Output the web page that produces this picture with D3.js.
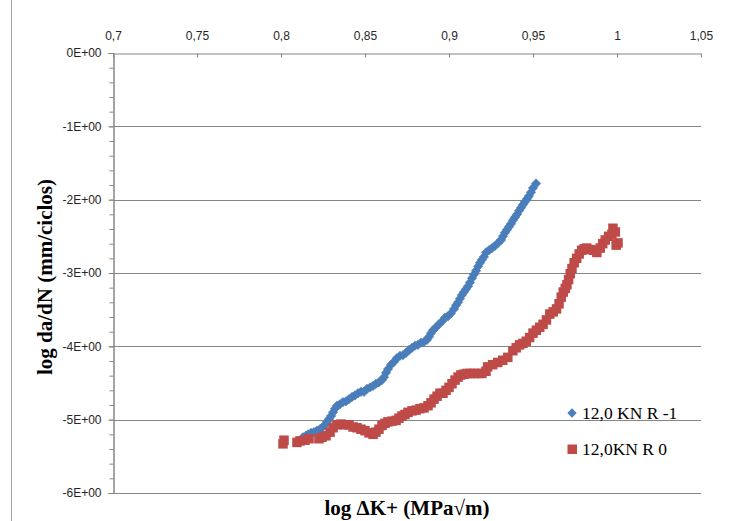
<!DOCTYPE html>
<html>
<head>
<meta charset="utf-8">
<script src="https://cdn.jsdelivr.net/npm/d3@7"></script>
<style>
html,body{margin:0;padding:0;background:#fff;}
svg{display:block;}
</style>
</head>
<body>
<svg id="chart" width="731" height="521"></svg>
<script>
// ---- data ----
const xTicks = [0.7, 0.75, 0.8, 0.85, 0.9, 0.95, 1, 1.05];
const xTickLabels = ["0,7", "0,75", "0,8", "0,85", "0,9", "0,95", "1", "1,05"];
const yTicks = [0, -1, -2, -3, -4, -5, -6];
const yTickLabels = ["0E+00", "-1E+00", "-2E+00", "-3E+00", "-4E+00", "-5E+00", "-6E+00"];
const seriesNames = ["12,0 KN R -1", "12,0KN R 0"];

// series 1: 12,0 KN R -1 (log dK, log da/dN)
const blueX = [0.8101,0.8119,0.8131,0.8149,0.8161,0.8179,0.8196,0.8214,0.8232,0.8244,0.8262,0.8274,0.8286,0.8298,0.8310,0.8321,0.8333,0.8351,0.8369,0.8387,0.8405,0.8423,0.8440,0.8458,0.8476,0.8494,0.8512,0.8530,0.8548,0.8565,0.8583,0.8601,0.8613,0.8625,0.8637,0.8655,0.8673,0.8690,0.8708,0.8726,0.8744,0.8762,0.8780,0.8798,0.8815,0.8833,0.8851,0.8869,0.8881,0.8893,0.8905,0.8923,0.8940,0.8958,0.8976,0.8994,0.9012,0.9030,0.9042,0.9054,0.9065,0.9077,0.9089,0.9101,0.9113,0.9125,0.9137,0.9149,0.9161,0.9173,0.9185,0.9196,0.9208,0.9220,0.9238,0.9256,0.9274,0.9292,0.9310,0.9321,0.9333,0.9345,0.9357,0.9369,0.9381,0.9393,0.9405,0.9417,0.9429,0.9440,0.9452,0.9464,0.9476,0.9488,0.9500,0.9518];
const blueY = [-5.29,-5.28,-5.24,-5.22,-5.20,-5.18,-5.17,-5.15,-5.13,-5.11,-5.07,-5.03,-4.99,-4.95,-4.90,-4.85,-4.81,-4.79,-4.76,-4.75,-4.72,-4.69,-4.67,-4.64,-4.62,-4.62,-4.58,-4.56,-4.54,-4.51,-4.49,-4.46,-4.42,-4.36,-4.31,-4.25,-4.21,-4.16,-4.13,-4.12,-4.09,-4.05,-4.02,-3.99,-3.98,-3.95,-3.94,-3.91,-3.87,-3.82,-3.78,-3.74,-3.70,-3.66,-3.61,-3.59,-3.55,-3.49,-3.44,-3.40,-3.35,-3.30,-3.26,-3.22,-3.18,-3.13,-3.07,-3.02,-2.97,-2.91,-2.86,-2.82,-2.78,-2.72,-2.69,-2.66,-2.63,-2.59,-2.55,-2.50,-2.45,-2.41,-2.37,-2.33,-2.28,-2.24,-2.20,-2.15,-2.11,-2.07,-2.03,-1.99,-1.95,-1.90,-1.84,-1.78];

// series 2: 12,0KN R 0
const redX = [0.8012,0.8018,0.8095,0.8113,0.8143,0.8167,0.8226,0.8244,0.8268,0.8292,0.8310,0.8333,0.8357,0.8381,0.8405,0.8429,0.8452,0.8476,0.8500,0.8524,0.8548,0.8565,0.8583,0.8601,0.8619,0.8637,0.8661,0.8685,0.8702,0.8720,0.8738,0.8756,0.8780,0.8804,0.8827,0.8851,0.8875,0.8893,0.8911,0.8929,0.8946,0.8964,0.8982,0.9000,0.9018,0.9036,0.9054,0.9071,0.9089,0.9107,0.9125,0.9149,0.9173,0.9196,0.9220,
  0.9230,0.9260,0.9290,0.9320,0.9350,0.9380,0.9400,0.9420,0.9440,0.9460,0.9480,0.9500,0.9520,0.9540,0.9560,0.9580,0.9600,0.9620,0.9640,0.9655,0.9668,0.9680,0.9692,0.9702,0.9712,0.9722,0.9732,0.9745,0.9760,0.9775,0.9790,0.9805,0.9820,0.9840,0.9860,0.9880,0.9900,0.9915,0.9930,0.9950,0.9970,0.9976,0.9990,1.0006,0.9995];
const redY = [-5.33,-5.28,-5.31,-5.29,-5.28,-5.26,-5.26,-5.24,-5.22,-5.17,-5.11,-5.07,-5.06,-5.07,-5.07,-5.10,-5.11,-5.13,-5.15,-5.18,-5.20,-5.17,-5.13,-5.08,-5.05,-5.03,-5.02,-5.01,-4.98,-4.95,-4.93,-4.90,-4.88,-4.87,-4.85,-4.84,-4.81,-4.77,-4.72,-4.68,-4.64,-4.64,-4.60,-4.56,-4.51,-4.46,-4.42,-4.39,-4.38,-4.37,-4.37,-4.37,-4.37,-4.37,-4.34,
  -4.28,-4.25,-4.22,-4.19,-4.15,-4.06,-4.02,-3.98,-3.96,-3.93,-3.88,-3.82,-3.78,-3.74,-3.70,-3.64,-3.56,-3.53,-3.49,-3.42,-3.33,-3.26,-3.21,-3.16,-3.09,-3.01,-2.94,-2.86,-2.80,-2.74,-2.69,-2.67,-2.66,-2.68,-2.69,-2.72,-2.66,-2.60,-2.55,-2.50,-2.47,-2.39,-2.44,-2.59,-2.62];

// ---- layout ----
const svg = d3.select("#chart");
const L = 113, R = 701, T = 53, B = 493;
const x = d3.scaleLinear().domain([0.7, 1.05]).range([L, R]);
const y = d3.scaleLinear().domain([-6, 0]).range([B, T]);
const grey = "#868686";
const tickFont = "'Liberation Sans', Arial, sans-serif";
const serif = "'Liberation Serif', 'Times New Roman', serif";

// outer left border line
svg.append("line").attr("x1", 11.5).attr("x2", 11.5).attr("y1", 0).attr("y2", 521)
  .attr("stroke", "#a6a6a6").attr("stroke-width", 1);

// horizontal gridlines
svg.append("g").selectAll("line").data(yTicks.filter(d => d !== 0)).join("line")
  .attr("x1", L).attr("x2", R)
  .attr("y1", d => Math.round(y(d)) + 0.5).attr("y2", d => Math.round(y(d)) + 0.5)
  .attr("stroke", grey).attr("stroke-width", 1);

// top x axis
const xAxis = d3.axisTop(x).tickValues(xTicks)
  .tickFormat((d, i) => xTickLabels[i]).tickSizeOuter(0).tickSizeInner(-4).tickPadding(14);
const gx = svg.append("g").attr("transform", `translate(0,${T + 0.5})`).call(xAxis);
gx.select(".domain").attr("stroke", grey);
gx.selectAll(".tick line").attr("stroke", grey);
gx.selectAll("text").attr("font-family", tickFont).attr("font-size", 12).attr("fill", "#262626");

// left y axis (minor ticks)
const yMinor = d3.range(0, 31).map(i => -i * 0.2);
const gym = svg.append("g").attr("transform", `translate(${L + 0.5},0)`)
  .call(d3.axisLeft(y).tickValues(yMinor).tickSize(4).tickFormat(""));
gym.select(".domain").attr("stroke", grey);
gym.selectAll(".tick line").attr("stroke", grey);

// left y axis (major)
const yAxis = d3.axisLeft(y).tickValues(yTicks)
  .tickFormat((d, i) => yTickLabels[i]).tickSizeOuter(0).tickSize(5).tickPadding(7);
const gy = svg.append("g").attr("transform", `translate(${L + 0.5},0)`).call(yAxis);
gy.select(".domain").attr("stroke", grey);
gy.selectAll(".tick line").attr("stroke", grey);
gy.selectAll("text").attr("font-family", tickFont).attr("font-size", 12).attr("fill", "#262626");

// series 1: diamonds
const blue = "#4A7EBB", red = "#BE4B48";
const diamond = d3.symbol().type(d3.symbolDiamond2).size(56);
svg.append("g").selectAll("path").data(blueX.map((v, i) => [v, blueY[i]])).join("path")
  .attr("d", diamond)
  .attr("transform", d => `translate(${x(d[0])},${y(d[1])})`)
  .attr("fill", blue).attr("stroke", blue).attr("stroke-width", 0.6);

// series 2: squares
svg.append("g").selectAll("rect").data(redX.map((v, i) => [v, redY[i]])).join("rect")
  .attr("x", d => x(d[0]) - 4.75).attr("y", d => y(d[1]) - 4.75)
  .attr("width", 9.5).attr("height", 9.5)
  .attr("fill", red);

// axis titles
svg.append("text").attr("x", 407).attr("y", 515).attr("text-anchor", "middle")
  .attr("font-family", serif).attr("font-weight", "bold").attr("font-size", 21).attr("fill", "#000")
  .text("log \u0394K+ (MPa\u221Am)");
svg.append("text").attr("transform", "translate(52,277) rotate(-90)").attr("text-anchor", "middle")
  .attr("font-family", serif).attr("font-weight", "bold").attr("font-size", 21).attr("fill", "#000")
  .text("log da/dN (mm/ciclos)");

// legend
const lg = svg.append("g");
lg.append("path").attr("d", d3.symbol().type(d3.symbolDiamond2).size(56))
  .attr("transform", "translate(572,413)").attr("fill", blue);
lg.append("text").attr("x", 582).attr("y", 419).attr("font-family", serif).attr("font-size", 17.5)
  .attr("fill", "#000").text(seriesNames[0]);
lg.append("rect").attr("x", 567.5).attr("y", 444.5).attr("width", 9.5).attr("height", 9.5).attr("fill", red);
lg.append("text").attr("x", 582).attr("y", 455).attr("font-family", serif).attr("font-size", 17.5)
  .attr("fill", "#000").text(seriesNames[1]);
</script>
</body>
</html>
